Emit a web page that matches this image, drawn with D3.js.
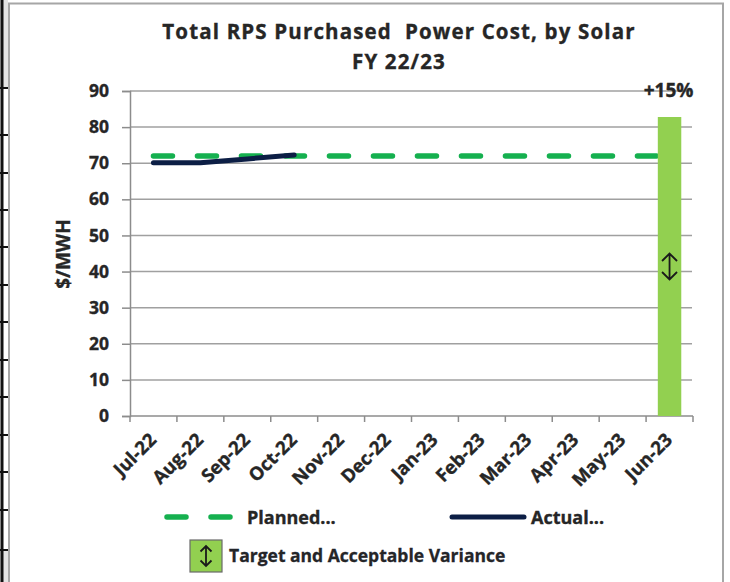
<!DOCTYPE html>
<html><head><meta charset="utf-8">
<script src="https://cdn.jsdelivr.net/npm/d3@7"></script>
<style>
html,body{margin:0;padding:0;background:#fff;}
svg{display:block;}
text{font-family:"Open Sans",Lato,sans-serif;font-weight:700;fill:#262626;white-space:pre;}
.heavy{stroke:#262626;stroke-width:0.35px;}
</style></head>
<body><svg id="c" width="730" height="582"></svg>
<script>
const months = ["Jul-22","Aug-22","Sep-22","Oct-22","Nov-22","Dec-22","Jan-23","Feb-23","Mar-23","Apr-23","May-23","Jun-23"];
const planned = [72,72,72,72,72,72,72,72,72,72,72,72];
const actual = [70.1,70.1,71.2,72.3];
const targetMonth = "Jun-23";
const targetValue = 82.8;
const varianceLabel = "+15%";
const yTicks = [0,10,20,30,40,50,60,70,80,90];
const titleLines = ["Total RPS Purchased  Power Cost, by Solar","FY 22/23"];
const yTitle = "$/MWH";
const legendLabels = ["Planned...","Actual...","Target and Acceptable Variance"];

const FONT = "'Open Sans', Lato, sans-serif";
const svg = d3.select("#c");
const L = 130, R = 693, T = 91, B = 416;
const x = d3.scaleBand().domain(months).range([L, R]).padding(0);
const y = d3.scaleLinear().domain([0, 90]).range([B, T]);
const bw = x.bandwidth();
const cx = m => x(m) + bw / 2;

// left decoration (neighbouring table edge)
svg.append("rect").attr("x",0).attr("y",0).attr("width",8).attr("height",88).attr("fill","#e4e4e4");
svg.append("rect").attr("x",0).attr("y",550).attr("width",8).attr("height",32).attr("fill","#e4e4e4");
svg.append("line").attr("x1",2).attr("x2",2).attr("y1",0).attr("y2",582).attr("stroke","#111").attr("stroke-width",3);
svg.selectAll(".lt").data([88,135,173,210,247,285,322,360,397,435,472,510,550]).join("line")
  .attr("x1",0).attr("x2",8).attr("y1",d=>d).attr("y2",d=>d).attr("stroke","#111").attr("stroke-width",2);

// chart border
svg.append("rect").attr("x",9).attr("y",3.5).attr("width",714).attr("height",600)
  .attr("fill","#fff").attr("stroke","#a6a6a6").attr("stroke-width",2);

// title
svg.append("text").attr("class","heavy").attr("x",399).attr("y",39).attr("text-anchor","middle").attr("font-size",20.5)
  .attr("letter-spacing",1.15).text(titleLines[0]);
svg.append("text").attr("class","heavy").attr("x",399).attr("y",69).attr("text-anchor","middle").attr("font-size",20.5)
  .attr("letter-spacing",1.15).text(titleLines[1]);

// gridlines
svg.append("g").selectAll("line").data(yTicks.filter(d=>d>0)).join("line")
  .attr("x1",L).attr("x2",R-1).attr("y1",d=>y(d)).attr("y2",d=>y(d))
  .attr("stroke","#a0a0a0").attr("stroke-width",1.5);

// y axis
const ya = svg.append("g").attr("transform",`translate(${L},0)`)
  .call(d3.axisLeft(y).tickValues(yTicks).tickSize(8).tickPadding(13));
ya.select(".domain").attr("stroke","#8c8c8c").attr("stroke-width",1.5);
ya.selectAll(".tick line").attr("stroke","#8c8c8c").attr("stroke-width",1.5);
ya.selectAll(".tick text").attr("class","heavy").attr("font-size",17.5).attr("fill","#262626").attr("font-family",FONT).attr("font-weight",700);

// y title
svg.append("text").attr("class","heavy").attr("transform",`translate(70,254) rotate(-90)`).attr("text-anchor","middle")
  .attr("font-size",19).text(yTitle);

// x axis
svg.append("line").attr("x1",L).attr("x2",R).attr("y1",B).attr("y2",B).attr("stroke","#8c8c8c").attr("stroke-width",1.5);
svg.append("g").selectAll("line").data(months.map(m=>x(m)).concat([R])).join("line")
  .attr("x1",d=>d).attr("x2",d=>d).attr("y1",B).attr("y2",B+6).attr("stroke","#8c8c8c").attr("stroke-width",1.5);
svg.append("g").selectAll("text").data(months).join("text").attr("class","heavy")
  .attr("transform",m=>`translate(${cx(m)+4},${B+25}) rotate(-45)`)
  .attr("text-anchor","end").attr("font-size",18.5).text(m=>m);

// planned dashed line
const line = d3.line().x((d,i)=>cx(months[i])).y(d=>y(d));
svg.append("path").datum(planned).attr("d",line).attr("fill","none")
  .attr("stroke","#15b04f").attr("stroke-width",5.5).attr("stroke-linecap","round")
  .attr("stroke-dasharray","19,25");

// actual line
svg.append("path").datum(actual).attr("d",line).attr("fill","none")
  .attr("stroke","#0c1e45").attr("stroke-width",5).attr("stroke-linecap","round").attr("stroke-linejoin","round");

// target bar
svg.append("rect").attr("x",x(targetMonth)+bw*0.25).attr("y",y(targetValue))
  .attr("width",bw*0.5).attr("height",y(0)-y(targetValue)).attr("fill","#92d050");

// double arrow in bar
function dblArrow(g, px, py, h, w){
  const p = d3.path();
  p.moveTo(px, py-h/2); p.lineTo(px, py+h/2);
  p.moveTo(px-w/2, py-h/2+w/2); p.lineTo(px, py-h/2); p.lineTo(px+w/2, py-h/2+w/2);
  p.moveTo(px-w/2, py+h/2-w/2); p.lineTo(px, py+h/2); p.lineTo(px+w/2, py+h/2-w/2);
  g.append("path").attr("d",p.toString()).attr("fill","none").attr("stroke","#1a1a1a").attr("stroke-width",1.8);
}
dblArrow(svg, cx(targetMonth), y(targetValue/2), 26, 15);

// variance label
svg.append("text").attr("class","heavy").attr("x",cx(targetMonth)-1).attr("y",y(90)+6).attr("text-anchor","middle")
  .attr("font-size",19).text(varianceLabel);

// legend
const lg = svg.append("g");
lg.append("line").attr("x1",167).attr("x2",233).attr("y1",517).attr("y2",517)
  .attr("stroke","#15b04f").attr("stroke-width",5.5).attr("stroke-linecap","round").attr("stroke-dasharray","19,25");
lg.append("text").attr("class","heavy").attr("x",247).attr("y",524).attr("font-size",18).text(legendLabels[0]);
lg.append("line").attr("x1",452).attr("x2",524).attr("y1",517).attr("y2",517)
  .attr("stroke","#0c1e45").attr("stroke-width",5).attr("stroke-linecap","round");
lg.append("text").attr("class","heavy").attr("x",531).attr("y",524).attr("font-size",18).text(legendLabels[1]);
lg.append("rect").attr("x",190).attr("y",540).attr("width",32).attr("height",32)
  .attr("fill","#92d050").attr("stroke","#6a6a6a").attr("stroke-width",1.2);
dblArrow(lg, 206, 556, 20, 11);
lg.append("text").attr("x",229).attr("y",562).attr("font-size",17.5).attr("fill","#1c2333")
  .attr("stroke","#1c2333").attr("stroke-width",0.3).text(legendLabels[2]);
</script></body></html>
